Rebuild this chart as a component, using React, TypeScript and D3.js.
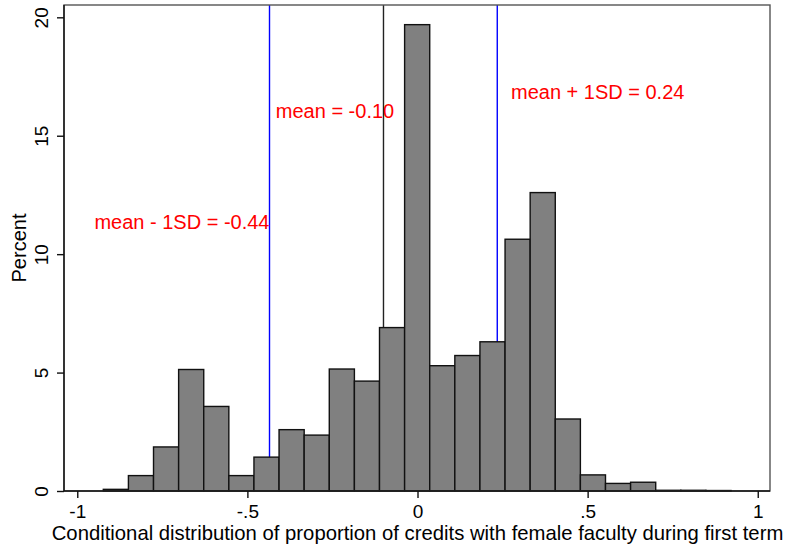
import React, { useRef, useEffect } from "react";
import * as d3 from "d3";

// histogram of conditional distribution (percent per bin)
const binStart = -0.9235;
const binWidth = 0.0738;
const percents = [
  0.07, 0.65, 1.86, 5.13, 3.57, 0.65, 1.43, 2.59, 2.36, 5.15, 4.64, 6.9,
  19.69, 5.29, 5.72, 6.3, 10.63, 12.6, 3.04, 0.68, 0.32, 0.37, 0.03, 0.03,
  0.02,
];

const xTicks = [-1, -0.5, 0, 0.5, 1];
const xTickLabels = ["-1", "-.5", "0", ".5", "1"];
const yTicks = [0, 5, 10, 15, 20];

// reference lines: mean - 1SD, mean, mean + 1SD
const refLines = [
  { x: -0.435, color: "#0000ff" },
  { x: -0.1, color: "#222222" },
  { x: 0.2344, color: "#0000ff" },
];

const labels = [
  { text: "mean - 1SD = -0.44", x: -0.435, y: 11.05, anchor: "end" },
  { text: "mean = -0.10", x: -0.4165, y: 15.75, anchor: "start" },
  { text: "mean + 1SD = 0.24", x: 0.2747, y: 16.55, anchor: "start" },
];

const FONT = "'Liberation Sans', Arial, Helvetica, sans-serif";

function App() {
  const svgRef = useRef<SVGSVGElement>(null);

  useEffect(() => {
    const width = 785;
    const height = 550;
    const svg = d3.select(svgRef.current);
    svg.selectAll("*").remove();

    const left = 64,
      right = 770,
      top = 5,
      bottom = 491;

    const x = d3.scaleLinear().domain([-1.039, 1.036]).range([left, right]);
    const y = d3.scaleLinear().domain([0, 20.52]).range([bottom, top]);

    svg.attr("width", width).attr("height", height);

    svg
      .append("rect")
      .attr("width", width)
      .attr("height", height)
      .attr("fill", "white");

    // reference lines (behind the bars)
    svg
      .selectAll(".ref")
      .data(refLines)
      .enter()
      .append("line")
      .attr("x1", (d) => x(d.x))
      .attr("x2", (d) => x(d.x))
      .attr("y1", y(20.52))
      .attr("y2", y(0))
      .attr("stroke", (d) => d.color)
      .attr("stroke-width", 1.4);

    // bars
    svg
      .selectAll(".bar")
      .data(percents)
      .enter()
      .append("rect")
      .attr("x", (d, i) => x(binStart + i * binWidth))
      .attr("y", (d) => y(d))
      .attr("width", (d, i) => x(binStart + (i + 1) * binWidth) - x(binStart + i * binWidth))
      .attr("height", (d) => y(0) - y(d))
      .attr("fill", "#808080")
      .attr("stroke", "#111")
      .attr("stroke-width", 1.4);

    // frame
    svg
      .append("rect")
      .attr("x", left)
      .attr("y", top)
      .attr("width", right - left)
      .attr("height", bottom - top)
      .attr("fill", "none")
      .attr("stroke", "#555")
      .attr("stroke-width", 1.4);

    // axes
    const yAxis = svg
      .append("g")
      .attr("transform", `translate(${left},0)`)
      .call(
        d3
          .axisLeft(y)
          .tickValues(yTicks)
          .tickSize(7)
          .tickFormat(d3.format("d"))
      );
    yAxis.select(".domain").attr("stroke", "#111").attr("stroke-width", 1.4)
      .attr("d", `M0,${top}V${bottom}`);
    yAxis.selectAll(".tick line").attr("stroke-width", 1.4).attr("stroke", "#111");
    yAxis
      .selectAll(".tick text")
      .attr("font-family", FONT)
      .attr("font-size", 19)
      .attr("fill", "#000")
      .attr("x", null)
      .attr("dy", null)
      .attr("text-anchor", "middle")
      .attr("transform", "translate(-16,0) rotate(-90)")
      .attr("y", 0);

    const xAxis = svg
      .append("g")
      .attr("transform", `translate(0,${bottom})`)
      .call(
        d3
          .axisBottom(x)
          .tickValues(xTicks)
          .tickSize(7)
          .tickFormat((d, i) => xTickLabels[i])
      );
    xAxis.select(".domain").attr("stroke", "#111").attr("stroke-width", 1.4)
      .attr("d", `M${left},0H${right}`);
    xAxis.selectAll(".tick line").attr("stroke-width", 1.4).attr("stroke", "#111");
    xAxis
      .selectAll(".tick text")
      .attr("font-family", FONT)
      .attr("font-size", 19)
      .attr("fill", "#000")
      .attr("dy", null)
      .attr("y", 27);

    // axis titles
    svg
      .append("text")
      .attr("x", 417.5)
      .attr("y", 540)
      .attr("text-anchor", "middle")
      .attr("font-family", FONT)
      .attr("font-size", 20.3)
      .text(
        "Conditional distribution of proportion of credits with female faculty during first term"
      );

    svg
      .append("text")
      .attr("transform", `translate(26,${(top + bottom) / 2}) rotate(-90)`)
      .attr("text-anchor", "middle")
      .attr("font-family", FONT)
      .attr("font-size", 20)
      .text("Percent");

    // red annotations
    svg
      .selectAll(".lbl")
      .data(labels)
      .enter()
      .append("text")
      .attr("x", (d) => x(d.x))
      .attr("y", (d) => y(d.y))
      .attr("text-anchor", (d) => d.anchor)
      .attr("font-family", FONT)
      .attr("font-size", 20)
      .attr("fill", "#ff0000")
      .text((d) => d.text);
  }, []);

  return (
    <svg
      ref={svgRef}
      style={{ position: "absolute", left: 0, top: 0, display: "block" }}
    />
  );
}

export default App;
